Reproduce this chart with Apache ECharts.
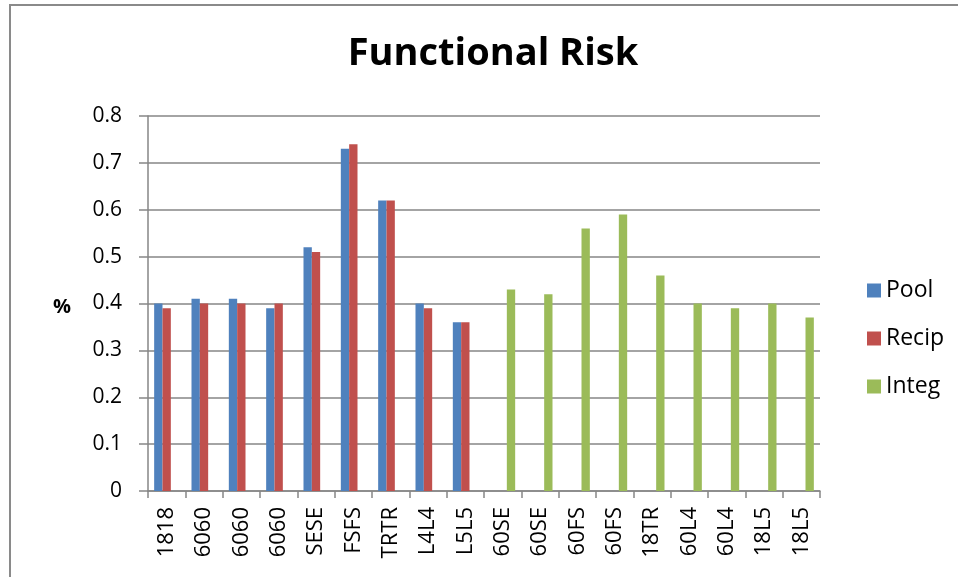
<!DOCTYPE html>
<html>
<head>
<meta charset="utf-8">
<script src="https://cdn.jsdelivr.net/npm/echarts@6/dist/echarts.min.js"></script>
<style>
html,body{margin:0;padding:0;background:#fff;}
#frame{position:absolute;left:9px;top:4px;width:949px;height:573px;border-left:2px solid #8a8a8a;border-top:2px solid #8a8a8a;box-sizing:border-box;}
#chart{position:absolute;left:0;top:0;width:958px;height:577px;}
</style>
</head>
<body>
<div id="frame"></div>
<div id="chart"></div>
<script>
var categories = ['1818','6060','6060','6060','SESE','FSFS','TRTR','L4L4','L5L5','60SE','60SE','60FS','60FS','18TR','60L4','60L4','18L5','18L5'];
var pool  = [0.40,0.41,0.41,0.39,0.52,0.73,0.62,0.40,0.36,null,null,null,null,null,null,null,null,null];
var recip = [0.39,0.40,0.40,0.40,0.51,0.74,0.62,0.39,0.36,null,null,null,null,null,null,null,null,null];
var integ = [null,null,null,null,null,null,null,null,null,0.43,0.42,0.56,0.59,0.46,0.40,0.39,0.40,0.37];
var yTicks = [0,0.1,0.2,0.3,0.4,0.5,0.6,0.7,0.8];

var chart = echarts.init(document.getElementById('chart'));
var font = '"Open Sans", sans-serif';
chart.setOption({
  animation:false,
  title:{text:'Functional Risk',left:488,top:30,textAlign:'center',
    textStyle:{fontFamily:font,fontSize:38,fontWeight:'bold',color:'#000'}},
  legend:{orient:'vertical',left:862,top:273,itemWidth:14,itemHeight:14,itemGap:23,
    icon:'rect',textStyle:{fontFamily:font,fontSize:23,lineHeight:25,color:'#000'},
    data:['Pool','Recip','Integ']},
  graphic:[{type:'text',left:53,top:297,style:{text:'%',font:'bold 20px '+font,fill:'#000'}}],
  grid:{left:148,right:138,top:116,bottom:86},
  xAxis:{type:'category',data:categories,
    axisLine:{lineStyle:{color:'#868686',width:1.5}},
    axisTick:{show:true,length:7,lineStyle:{color:'#868686',width:1.5}},
    axisLabel:{rotate:90,margin:16,fontFamily:font,fontSize:22,color:'#000',interval:0}},
  yAxis:{type:'value',min:yTicks[0],max:yTicks[yTicks.length-1],interval:0.1,
    axisLine:{show:true,lineStyle:{color:'#868686',width:1.5}},
    axisTick:{show:true,length:9,lineStyle:{color:'#868686',width:1.5}},
    splitLine:{lineStyle:{color:'#868686',width:1.5}},
    axisLabel:{margin:26,fontFamily:font,fontSize:21,color:'#000',padding:[4,0,0,0],
      formatter:function(v){return String(Math.round(v*10)/10);}}},
  series:[
    {name:'Pool',type:'bar',data:pool,barGap:'0%',barCategoryGap:'33%',itemStyle:{color:'#4F81BD'}},
    {name:'Recip',type:'bar',data:recip,barGap:'0%',barCategoryGap:'33%',itemStyle:{color:'#C0504D'}},
    {name:'Integ',type:'bar',data:integ,barGap:'0%',barCategoryGap:'33%',itemStyle:{color:'#9BBB59'}}
  ]
});
</script>
</body>
</html>
